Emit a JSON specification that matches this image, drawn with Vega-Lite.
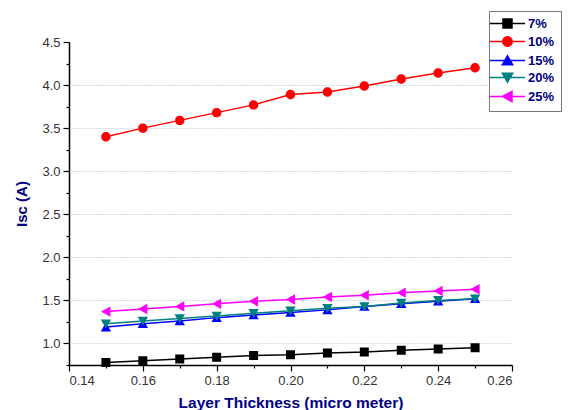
{
  "$schema": "https://vega.github.io/schema/vega-lite/v6.json",
  "autosize": {"type": "none"},
  "padding": {"left": 69, "top": 42, "right": 73, "bottom": 45},
  "width": 443,
  "height": 323,
  "background": "white",
  "config": {
    "view": {"stroke": null},
    "font": "Liberation Sans"
  },
  "data": {
    "values": [
      {"t": 0.15, "isc": 0.78, "series": "7%"},
      {"t": 0.16, "isc": 0.80, "series": "7%"},
      {"t": 0.17, "isc": 0.82, "series": "7%"},
      {"t": 0.18, "isc": 0.84, "series": "7%"},
      {"t": 0.19, "isc": 0.86, "series": "7%"},
      {"t": 0.20, "isc": 0.87, "series": "7%"},
      {"t": 0.21, "isc": 0.89, "series": "7%"},
      {"t": 0.22, "isc": 0.90, "series": "7%"},
      {"t": 0.23, "isc": 0.92, "series": "7%"},
      {"t": 0.24, "isc": 0.935, "series": "7%"},
      {"t": 0.25, "isc": 0.95, "series": "7%"},
      {"t": 0.15, "isc": 3.40, "series": "10%"},
      {"t": 0.16, "isc": 3.50, "series": "10%"},
      {"t": 0.17, "isc": 3.59, "series": "10%"},
      {"t": 0.18, "isc": 3.68, "series": "10%"},
      {"t": 0.19, "isc": 3.77, "series": "10%"},
      {"t": 0.20, "isc": 3.89, "series": "10%"},
      {"t": 0.21, "isc": 3.92, "series": "10%"},
      {"t": 0.22, "isc": 3.99, "series": "10%"},
      {"t": 0.23, "isc": 4.07, "series": "10%"},
      {"t": 0.24, "isc": 4.14, "series": "10%"},
      {"t": 0.25, "isc": 4.20, "series": "10%"},
      {"t": 0.15, "isc": 1.19, "series": "15%"},
      {"t": 0.16, "isc": 1.23, "series": "15%"},
      {"t": 0.17, "isc": 1.26, "series": "15%"},
      {"t": 0.18, "isc": 1.30, "series": "15%"},
      {"t": 0.19, "isc": 1.33, "series": "15%"},
      {"t": 0.20, "isc": 1.36, "series": "15%"},
      {"t": 0.21, "isc": 1.39, "series": "15%"},
      {"t": 0.22, "isc": 1.43, "series": "15%"},
      {"t": 0.23, "isc": 1.46, "series": "15%"},
      {"t": 0.24, "isc": 1.49, "series": "15%"},
      {"t": 0.25, "isc": 1.52, "series": "15%"},
      {"t": 0.15, "isc": 1.23, "series": "20%"},
      {"t": 0.16, "isc": 1.26, "series": "20%"},
      {"t": 0.17, "isc": 1.29, "series": "20%"},
      {"t": 0.18, "isc": 1.32, "series": "20%"},
      {"t": 0.19, "isc": 1.35, "series": "20%"},
      {"t": 0.20, "isc": 1.38, "series": "20%"},
      {"t": 0.21, "isc": 1.41, "series": "20%"},
      {"t": 0.22, "isc": 1.43, "series": "20%"},
      {"t": 0.23, "isc": 1.47, "series": "20%"},
      {"t": 0.24, "isc": 1.50, "series": "20%"},
      {"t": 0.25, "isc": 1.52, "series": "20%"},
      {"t": 0.15, "isc": 1.37, "series": "25%"},
      {"t": 0.16, "isc": 1.40, "series": "25%"},
      {"t": 0.17, "isc": 1.43, "series": "25%"},
      {"t": 0.18, "isc": 1.46, "series": "25%"},
      {"t": 0.19, "isc": 1.49, "series": "25%"},
      {"t": 0.20, "isc": 1.51, "series": "25%"},
      {"t": 0.21, "isc": 1.54, "series": "25%"},
      {"t": 0.22, "isc": 1.56, "series": "25%"},
      {"t": 0.23, "isc": 1.59, "series": "25%"},
      {"t": 0.24, "isc": 1.61, "series": "25%"},
      {"t": 0.25, "isc": 1.63, "series": "25%"}
    ]
  },
  "encoding": {
    "x": {
      "field": "t", "type": "quantitative",
      "scale": {"domain": [0.14, 0.26], "nice": false, "zero": false},
      "axis": {
        "title": "Layer Thickness (micro meter)",
        "values": [0.14, 0.15, 0.16, 0.17, 0.18, 0.19, 0.20, 0.21, 0.22, 0.23, 0.24, 0.25, 0.26],
        "labelExpr": "round(datum.value*100) % 2 == 1 ? '' : format(datum.value, '.2f')",
        "tickSize": {"condition": {"test": "round(datum.value*100) % 2 == 1", "value": 3}, "value": 6},
        "grid": false,
        "domainColor": "black", "domainWidth": 1.5,
        "tickColor": "black", "tickWidth": 1.2,
        "labelFont": "Liberation Sans", "labelFontSize": 13, "labelColor": "#333333", "labelPadding": 3,
        "titleFont": "Liberation Sans", "titleFontSize": 15.5, "titleFontWeight": "bold", "titleColor": "#000080",
        "titlePadding": 8
      }
    },
    "y": {
      "field": "isc", "type": "quantitative",
      "scale": {"domain": [0.75, 4.5], "nice": false, "zero": false},
      "axis": {
        "title": "Isc (A)",
        "values": [0.75, 1.0, 1.25, 1.5, 1.75, 2.0, 2.25, 2.5, 2.75, 3.0, 3.25, 3.5, 3.75, 4.0, 4.25, 4.5],
        "labelExpr": "round(datum.value*4) % 2 == 1 ? '' : format(datum.value, '.1f')",
        "tickSize": {"condition": {"test": "round(datum.value*4) % 2 == 1", "value": 3}, "value": 6},
        "grid": true,
        "gridColor": "#9aa0c0",
        "gridDash": [1, 2],
        "gridWidth": 1,
        "gridOpacity": {"condition": {"test": "round(datum.value*4) % 2 == 1 || datum.value > 4.4", "value": 0}, "value": 0.8},
        "domainColor": "black", "domainWidth": 1.5,
        "tickColor": "black", "tickWidth": 1.2,
        "labelFont": "Liberation Sans", "labelFontSize": 13, "labelColor": "#333333", "labelPadding": 3,
        "titleFont": "Liberation Sans", "titleFontSize": 15, "titleFontWeight": "bold", "titleColor": "#000080",
        "titlePadding": 12
      }
    },
    "color": {
      "field": "series", "type": "nominal",
      "scale": {"domain": ["7%", "10%", "15%", "20%", "25%"], "range": ["#000000", "#ff0000", "#0000ff", "#008080", "#ff00ff"]},
      "legend": {
        "title": null,
        "orient": "none", "legendX": 420, "legendY": -31,
        "strokeColor": "#777777", "padding": 6, "fillColor": "white",
        "symbolSize": 81,
        "symbolStrokeWidth": 1.5,
        "symbolOffset": 6,
        "rowPadding": 2,
        "labelFont": "Liberation Sans", "labelFontSize": 13, "labelFontWeight": "bold", "labelColor": "#000080",
        "labelOffset": 14
      }
    }
  },
  "layer": [
    {
      "mark": {"type": "line", "strokeWidth": 1.5},
      "encoding": {"detail": {"field": "series"}}
    },
    {
      "mark": {"type": "point", "filled": true, "opacity": 1, "size": 81},
      "encoding": {
        "shape": {
          "field": "series", "type": "nominal",
          "scale": {"domain": ["7%", "10%", "15%", "20%", "25%"], "range": [
            "M-3.9,0H3.9M-1,-1H1V1H-1Z",
            "M-3.9,0H3.9M-1.05,0A1.05,1.05,0,1,0,1.05,0A1.05,1.05,0,1,0,-1.05,0Z",
            "M-3.9,0H3.9M0,-1.05L1.15,0.95L-1.15,0.95Z",
            "M-3.9,0H3.9M0,1.05L1.15,-0.95L-1.15,-0.95Z",
            "M-3.9,0H3.9M-1.1,0L1,-1.15L1,1.15Z"
          ]},
          "legend": null
        }
      }
    }
  ]
}
